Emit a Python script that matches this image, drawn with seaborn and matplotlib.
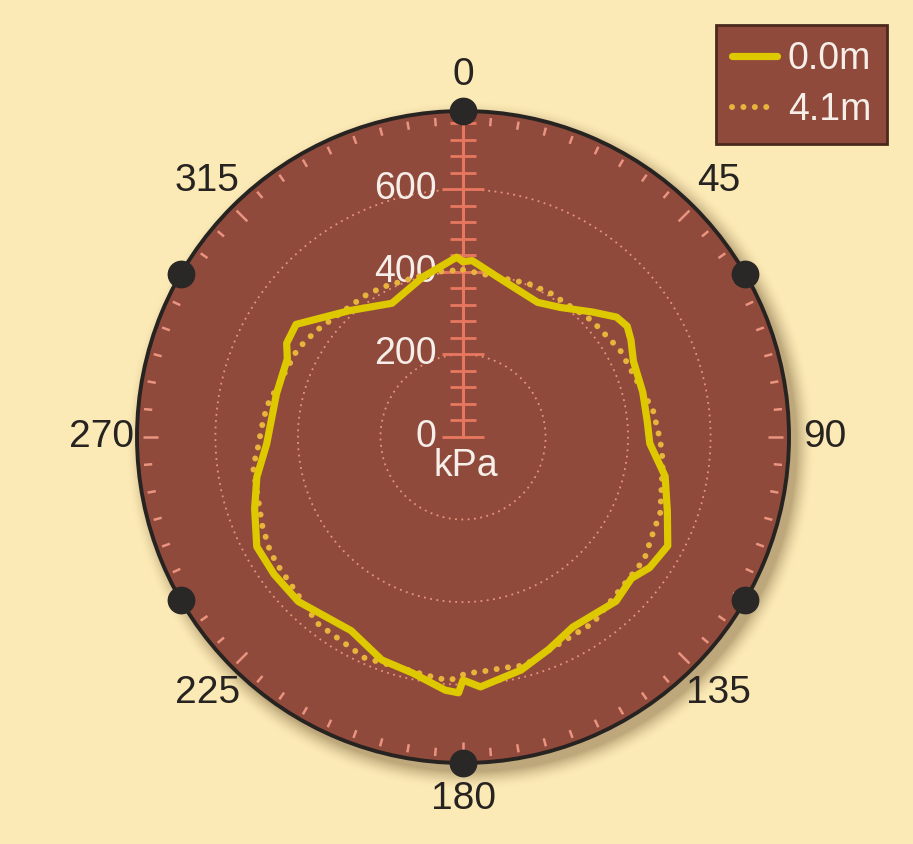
import numpy as np
import pandas as pd
import matplotlib
matplotlib.use("Agg")
import matplotlib.pyplot as plt
import seaborn as sns

# Bearing around the section (degrees clockwise from top) and measured pressure (kPa)
angle_0m = [0, 3, 15, 29, 37, 46, 52, 56, 60, 66, 76, 85, 92, 101, 110, 118, 125,
            130, 137, 150, 158, 166, 176, 180, 181, 184, 192, 200, 210, 225, 234,
            242, 251, 259, 268, 283, 294, 298, 304, 318, 332, 346, 358]
pressure_0m = [425, 428, 390, 373, 393, 436, 472, 480, 470, 452, 449, 448, 453, 499,
               527, 562, 552, 533, 544, 532, 555, 582, 607, 589, 620, 615, 585, 575,
               542, 564, 566, 566, 534, 509, 476, 464, 466, 484, 488, 412, 367, 400,
               436]

angle_4m = [0, 23, 31, 48, 61, 82, 91, 97, 111, 117, 124, 145, 165, 170, 176, 179,
            183, 186, 204, 218, 236, 240, 246, 262, 266, 273, 279, 298, 306, 325,
            332, 350]
pressure_4m = [405, 404, 408, 421, 435, 465, 478, 488, 512, 516, 530, 550, 573, 568,
               571, 572, 590, 588, 586, 573, 546, 542, 532, 514, 500, 488, 481, 454,
               439, 417, 412, 406]

series_labels = ["0.0m", "4.1m"]
bearing_ticks = [0, 45, 90, 135, 180, 225, 270, 315]
ring_values = [200, 400, 600]
scale_labels = [0, 200, 400, 600]
marker_bearings = [0, 60, 120, 180, 240, 300]

R_MAX = 790
BG = "#FCEAB6"
DISC = "#8F4A3C"
SALMON = "#E8775F"
SALMON_LIGHT = "#EA9480"
YELLOW = "#DEC800"
GOLD = "#E9B43C"
INK = "#262321"
WHITE = "#F6EEE8"

sns.set_style("white")
plt.rcParams["font.family"] = ["Liberation Sans", "DejaVu Sans"]

W, H, DPI = 913, 844, 100
fig = plt.figure(figsize=(W / DPI, H / DPI), dpi=DPI, facecolor=BG)

# disc geometry in pixels
cx, cy, rad = 463, 437, 326

# soft drop shadow behind the disc
ax_bg = fig.add_axes([0, 0, 1, 1], zorder=-5)
yy, xx = np.mgrid[0:H, 0:W]
dist = np.hypot(xx - (cx + 7), yy - (cy + 8))
shade = np.clip((rad + 18 - dist) / 18, 0, 1) ** 1.6 * 0.45
bg_rgb = np.array(matplotlib.colors.to_rgb(BG))
sh_rgb = np.array([0.45, 0.35, 0.2])
img = bg_rgb[None, None, :] * (1 - shade[..., None]) + sh_rgb[None, None, :] * shade[..., None]
ax_bg.imshow(img, extent=(0, W, H, 0), aspect="auto", interpolation="bilinear")
ax_bg.axis("off")

ax = fig.add_axes([(cx - rad) / W, (H - cy - rad) / H, 2 * rad / W, 2 * rad / H],
                  projection="polar")
ax.set_facecolor(DISC)
ax.set_theta_zero_location("N")
ax.set_theta_direction(-1)
ax.set_ylim(0, R_MAX)
ax.set_xticks([])
ax.set_rgrids(ring_values, labels=[""] * len(ring_values))
ax.xaxis.grid(False)
ax.yaxis.grid(True, color=SALMON_LIGHT, linestyle=(0, (1, 2.5)), linewidth=1.3)
ax.spines["polar"].set_color(INK)
ax.spines["polar"].set_linewidth(2.8)

# rim ticks every 5 degrees, longer every 45
for b in range(0, 360, 5):
    t = np.deg2rad(b)
    r0 = 739 if b % 45 == 0 else 756
    ax.plot([t, t], [r0, 776], color=SALMON_LIGHT, lw=1.8, solid_capstyle="butt", zorder=2)

# vertical pressure scale along the 0 bearing
ax.plot([0, 0], [0, 760], color=SALMON, lw=2.2, zorder=2)
for v in range(0, 761, 40):
    half = 50 if v in scale_labels else 32
    if v == 0:
        pts_t = [-np.pi / 2, np.pi / 2]
        pts_r = [half, half]
    else:
        a = np.arctan2(half, v)
        rr = np.hypot(half, v)
        pts_t, pts_r = [-a, a], [rr, rr]
    ax.plot(pts_t, pts_r, color=SALMON, lw=2.0, solid_capstyle="butt", zorder=2)

for v in scale_labels:
    ax.annotate(str(v), xy=(0, v), xytext=(-19, 0), textcoords="offset points",
                ha="right", va="center", color=WHITE, fontsize=27, zorder=4)
ax.annotate("kPa", xy=(0, 0), xytext=(2, -21), textcoords="offset points",
            ha="center", va="center", color=WHITE, fontsize=27, zorder=4)

# pressure profiles, closed around the circle
frames = []
for lab, ang, val in [(series_labels[0], angle_0m, pressure_0m),
                      (series_labels[1], angle_4m, pressure_4m)]:
    a = list(ang) + [ang[0] + 360]
    v = list(val) + [val[0]]
    frames.append(pd.DataFrame({"theta": np.deg2rad(a), "kPa": v, "depth": lab}))

sns.lineplot(data=frames[1], x="theta", y="kPa", ax=ax, sort=False, estimator=None,
             color=GOLD, lw=4.3, linestyle=(0, (0.01, 1.9)), dash_capstyle="round",
             label=series_labels[1], zorder=5)
sns.lineplot(data=frames[0], x="theta", y="kPa", ax=ax, sort=False, estimator=None,
             color=YELLOW, lw=5.2, solid_joinstyle="round", solid_capstyle="round",
             label=series_labels[0], zorder=6)
if ax.get_legend() is not None:
    ax.get_legend().remove()
ax.set_xlabel("")
ax.set_ylabel("")
ax.set_ylim(0, R_MAX)

# markers on the rim
ax.plot(np.deg2rad(marker_bearings), [R_MAX] * len(marker_bearings), "o",
        color="#2A2826", markersize=19, clip_on=False, zorder=8)

# bearing labels around the outside
for b in bearing_ticks:
    ax.text(np.deg2rad(b), 877, str(b), ha="center", va="center", fontsize=28,
            color=INK, clip_on=False)

handles, labels = ax.get_legend_handles_labels()
order = [labels.index(s) for s in series_labels]
leg = fig.legend([handles[i] for i in order], [labels[i] for i in order],
                 loc="upper right", bbox_to_anchor=(887 / W, 1 - 25 / H),
                 bbox_transform=fig.transFigure, borderaxespad=0, frameon=True,
                 fancybox=False, facecolor=DISC, edgecolor="#4A2A1E", framealpha=1,
                 fontsize=27, labelcolor=WHITE, handlelength=1.2,
                 handletextpad=0.3, borderpad=0.42, labelspacing=0.4)
leg.get_frame().set_linewidth(2)

fig.savefig("out.png", dpi=DPI, facecolor=BG)
